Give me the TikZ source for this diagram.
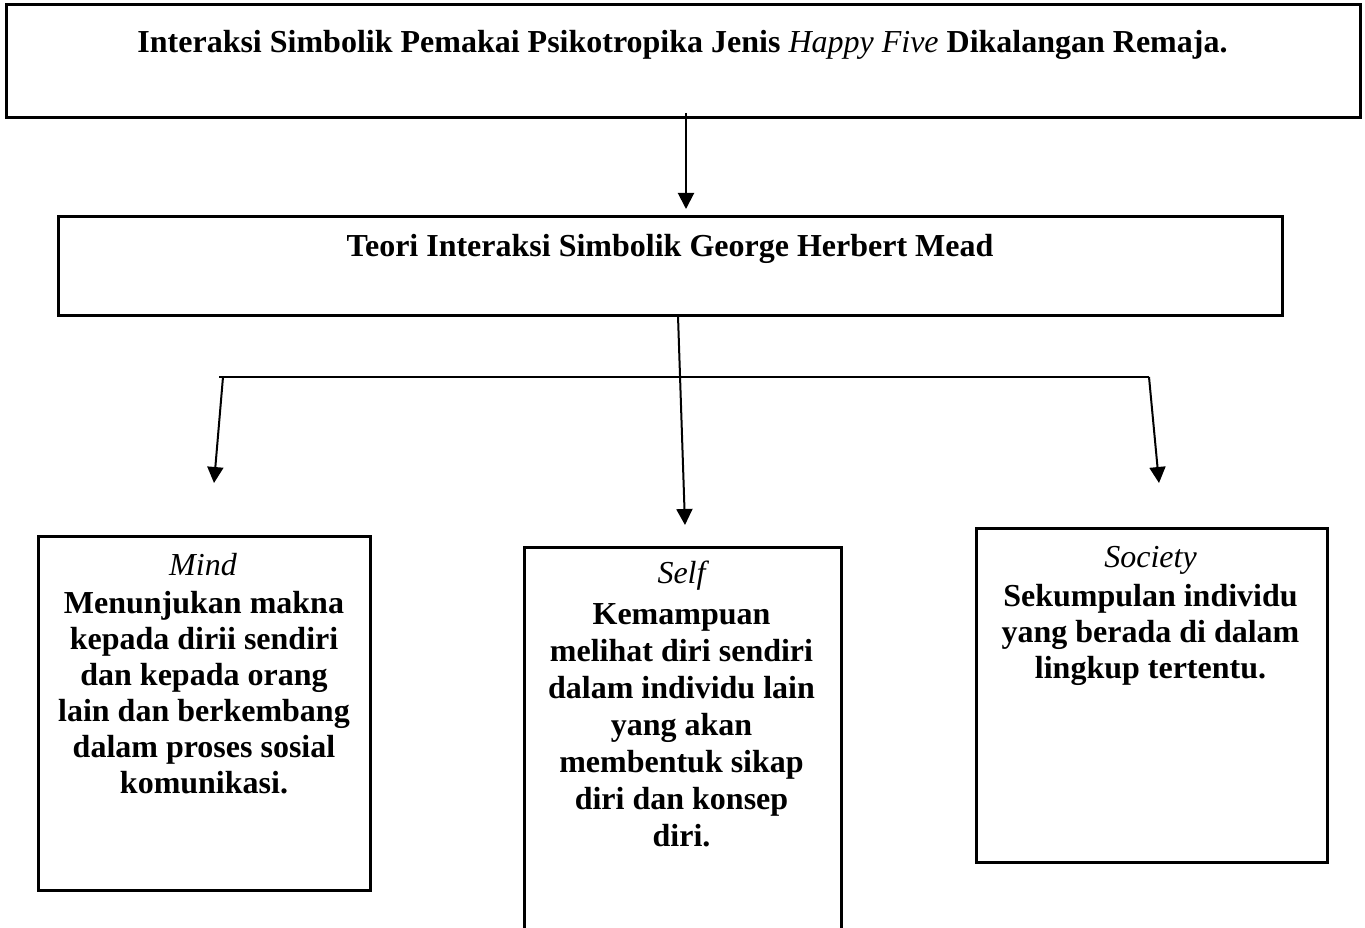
\documentclass[tikz,border=0pt]{standalone}
\usepackage{fontspec}
\setmainfont{Liberation Serif}
\usetikzlibrary{arrows.meta}
\begin{document}
\begin{tikzpicture}[x=1pt,y=-1pt,
  frame/.style={draw=black, line width=2.6pt, inner sep=0pt, anchor=north west},
  conn/.style={draw=black, line width=2pt, -{Triangle[length=16pt,width=16pt]}},
  plain/.style={draw=black, line width=2pt},
  head/.style={font=\fontsize{32}{36}\selectfont\bfseries, inner sep=0pt, anchor=base},
  ttl/.style={font=\fontsize{32}{36}\selectfont\itshape, inner sep=0pt, anchor=base},
  body/.style={font=\fontsize{32}{36}\selectfont\bfseries, align=center, inner sep=0pt, anchor=north}]
\useasboundingbox (0,0) rectangle (1365,928);
\fill[white] (0,0) rectangle (1365,928);
% boxes
\node[frame, minimum width=1354pt, minimum height=113pt] (top) at (5,3) {};
\node[frame, minimum width=1224pt, minimum height=99pt] (theory) at (57,215) {};
\node[frame, minimum width=332pt, minimum height=354pt] (mind) at (37,535) {};
\node[frame, minimum width=317pt, minimum height=400pt] (self) at (523,546) {};
\node[frame, minimum width=351pt, minimum height=334pt] (society) at (975,527) {};
% texts
\node[head] (toptxt) at (682.5,53) {Interaksi Simbolik Pemakai Psikotropika Jenis \textit{\mdseries Happy Five} Dikalangan Remaja.};
\node[head] (theorytxt) at (670,256) {Teori Interaksi Simbolik George Herbert Mead};
\node[ttl] (mindttl) at (203,575) {Mind};
\node[body] (mindtxt) at (204,587.8) {\strut Menunjukan makna\\kepada dirii sendiri\\dan kepada orang\\lain dan berkembang\\dalam proses sosial\\komunikasi.};
\node[ttl] (selfttl) at (681.5,583) {Self};
\node[body, font=\fontsize{32}{37}\selectfont\bfseries] (selftxt) at (681.5,598.1) {\strut Kemampuan\\melihat diri sendiri\\dalam individu lain\\yang akan\\membentuk sikap\\diri dan konsep\\diri.};
\node[ttl] (societyttl) at (1150.5,567) {Society};
\node[body] (societytxt) at (1150.5,580.8) {\strut Sekumpulan individu\\yang berada di dalam\\lingkup tertentu.};
% connectors
\coordinate (a1) at (686,113);
\coordinate (a2) at (686,209);
\draw[conn] (a1) -- (a2);
\coordinate (m1) at (678,316);
\coordinate (m2) at (685,525);
\draw[conn] (m1) -- (m2);
\coordinate (bl) at (219,377);
\coordinate (br) at (1149,377);
\draw[plain] (bl) -- (br);
\coordinate (l1) at (223,377);
\coordinate (l2) at (214,483);
\draw[conn] (l1) -- (l2);
\coordinate (r1) at (1149,377);
\coordinate (r2) at (1159,483);
\draw[conn] (r1) -- (r2);
\end{tikzpicture}
\end{document}
